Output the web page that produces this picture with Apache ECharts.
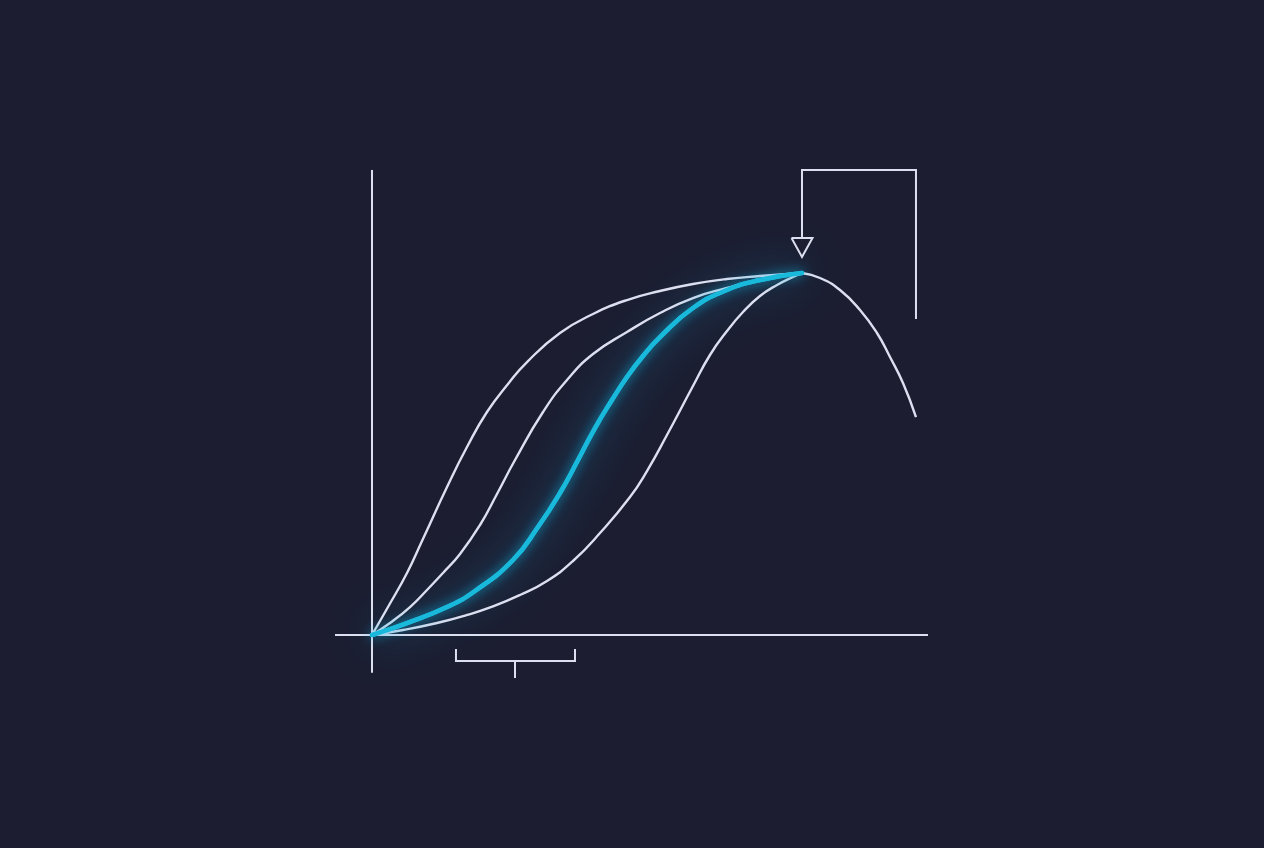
<!DOCTYPE html>
<html>
<head>
<meta charset="utf-8">
<script src="https://cdn.jsdelivr.net/npm/echarts@6/dist/echarts.min.js"></script>
<style>
html,body{margin:0;padding:0;background:#1c1d30;}
#chart{width:1264px;height:848px;}
</style>
</head>
<body>
<div id="chart"></div>
<script>
// Curves in data units (origin = 0,0 ; shared peak = 100,100)
const curveFast = [[0,0],[3.72,7.73],[8.14,17.13],[11.63,25.97],[17.67,41.44],[22.09,51.93],[26.74,61.60],[31.63,69.34],[36.05,75.41],[43.72,83.43],[51.40,88.67],[59.30,92.54],[66.98,95.03],[74.65,96.96],[82.56,98.34],[90.23,99.17],[100,100]];
const curveMid = [[0,0],[4.19,3.31],[8.84,7.73],[12.79,12.43],[16.51,17.13],[20.47,22.38],[25.12,30.39],[29.07,38.95],[33.26,48.34],[39.77,61.60],[45.35,70.44],[51.40,77.62],[59.30,83.70],[66.98,88.95],[74.65,93.09],[82.56,95.86],[90.23,98.07],[100,100]];
const curveHighlight = [[0,0],[8.14,3.31],[17.44,7.73],[23.95,12.15],[32.79,20.72],[38.60,29.83],[43.72,39.23],[47.91,48.34],[51.86,57.18],[55.81,64.92],[59.30,71.27],[63.02,77.07],[66.98,82.32],[74.65,90.33],[82.56,95.30],[90.23,98.07],[100,100]];
const curveSlow = [[0,0],[7.21,1.38],[15.12,3.31],[21.63,5.36],[28.14,7.90],[34.42,11.05],[40.70,14.92],[46.74,20.44],[53.02,28.18],[60.00,38.12],[63.95,45.30],[68.60,55.25],[74.65,68.78],[78.60,77.35],[82.56,83.98],[86.28,89.23],[90.23,93.65],[94.19,96.69],[97.91,98.90],[100,100]];
const curveDecline = [[100,100],[104.19,98.62],[108.84,95.30],[113.49,89.78],[117.44,83.43],[120.47,76.80],[123.49,69.61],[126.51,60.22]];

// Axis strokes and annotation brackets
const axisX = [[-8.6,0],[129.3,0]];
const axisY = [[0,-10.4],[0,128.45]];
const topBracket = [[126.51,87.29],[126.51,128.45],[100,128.45],[100,109.67]];
const arrowHead = [[97.56,109.67],[102.44,109.67],[100,104.42],[97.56,109.67]];
const bottomBracket = [[19.53,-3.87],[19.53,-7.18],[47.21,-7.18],[47.21,-3.87]];
const bottomTick = [[33.26,-7.18],[33.26,-11.88]];

const WHITE = '#dcdff0';
const CYAN = '#19b9dc';
const SMOOTH = 0.5;

function plain(data, width, smooth){
  return {
    type:'line', data:data, showSymbol:false, silent:true,
    smooth: smooth ? SMOOTH : false,
    lineStyle:{color:WHITE, width:width, cap:'butt', join:'miter'},
    z:2
  };
}

const chart = echarts.init(document.getElementById('chart'));
chart.setOption({
  backgroundColor:'#1c1d30',
  animation:false,
  grid:{left:325, right:326, top:160, bottom:160},
  xAxis:{type:'value', min:-10.93, max:131.63, show:false},
  yAxis:{type:'value', min:-14.64, max:131.22, show:false},
  series:[
    plain(axisX, 2, false),
    plain(axisY, 2, false),
    {
      type:'line', data:curveHighlight, showSymbol:false, silent:true,
      smooth:SMOOTH,
      lineStyle:{color:CYAN, width:4.5, shadowBlur:45, shadowColor:'rgba(20,170,220,1)', cap:'round'},
      z:1
    },
    plain(curveFast, 2.4, true),
    plain(curveMid, 2.4, true),
    plain(curveSlow, 2.4, true),
    plain(curveDecline, 2.4, true),
    plain(topBracket, 2, false),
    Object.assign(plain(arrowHead, 2, false), {areaStyle:{color:'#1c1d30', opacity:1}}),
    plain(bottomBracket, 2, false),
    plain(bottomTick, 2, false),
    {
      type:'line', data:curveHighlight, showSymbol:false, silent:true,
      smooth:SMOOTH,
      lineStyle:{color:CYAN, width:4.5, shadowBlur:12, shadowColor:'rgba(20,180,225,0.9)', cap:'round'},
      z:5
    }
  ]
});
</script>
</body>
</html>
